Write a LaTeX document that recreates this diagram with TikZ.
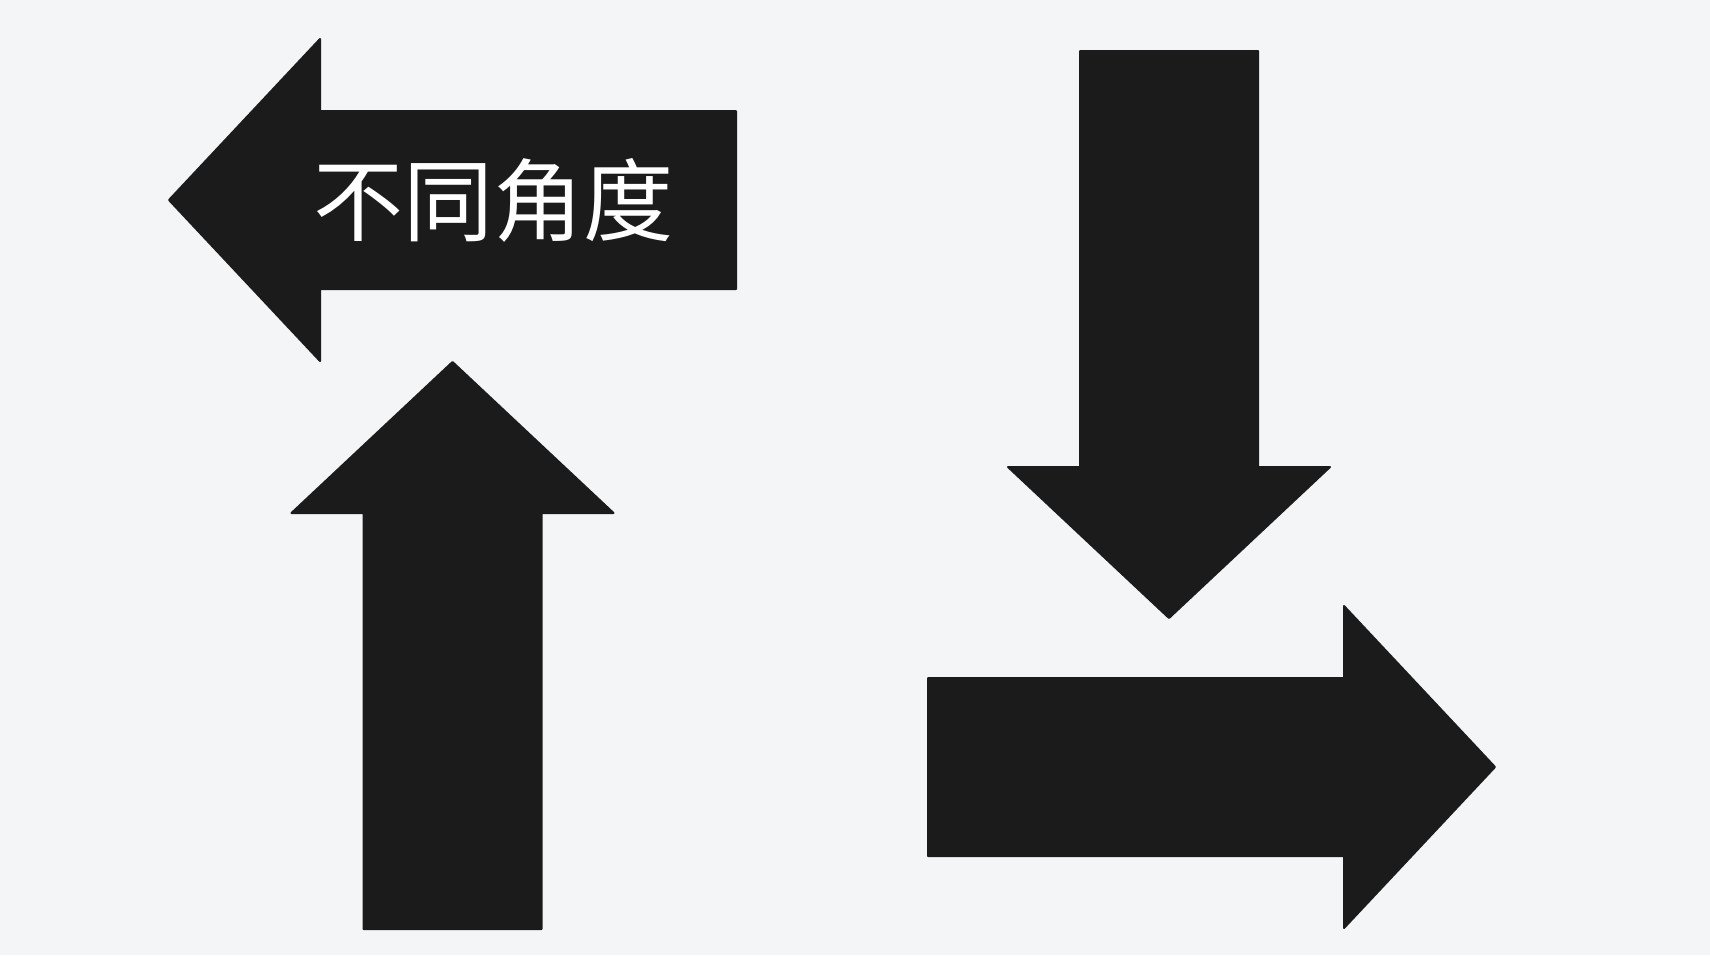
\documentclass[tikz,border=0pt]{standalone}
\usepackage{fontspec}
\newfontfamily\cjk{Noto Sans CJK SC}
\definecolor{bg}{HTML}{F4F5F7}
\definecolor{ink}{HTML}{1B1B1B}
\tikzset{
  blockarrow/.style={fill=ink, draw=ink, line width=1pt, line join=round},
  arrowtext/.style={text=white, font=\cjk\fontsize{45}{50}\selectfont, inner sep=0pt}
}
\begin{document}
\begin{tikzpicture}[x=0.5pt, y=-0.5pt]
  \fill[bg] (0,0) rectangle (1710,955);
  \useasboundingbox (0,0) rectangle (1710,955);
  % four block arrows: tail point and direction
  \foreach \tx/\ty/\angle in {736/200/180, 452.5/929/90, 1169/51/-90, 928/767/0}{
    \begin{scope}[shift={(\tx,\ty)}, rotate=\angle]
      \draw[blockarrow] (0,-89) -- (416,-89) -- (416,-161) -- (567,0)
        -- (416,161) -- (416,89) -- (0,89) -- cycle;
    \end{scope}
  }
  \node[arrowtext] (angles) at (493,200) {不同角度};
\end{tikzpicture}
\end{document}
